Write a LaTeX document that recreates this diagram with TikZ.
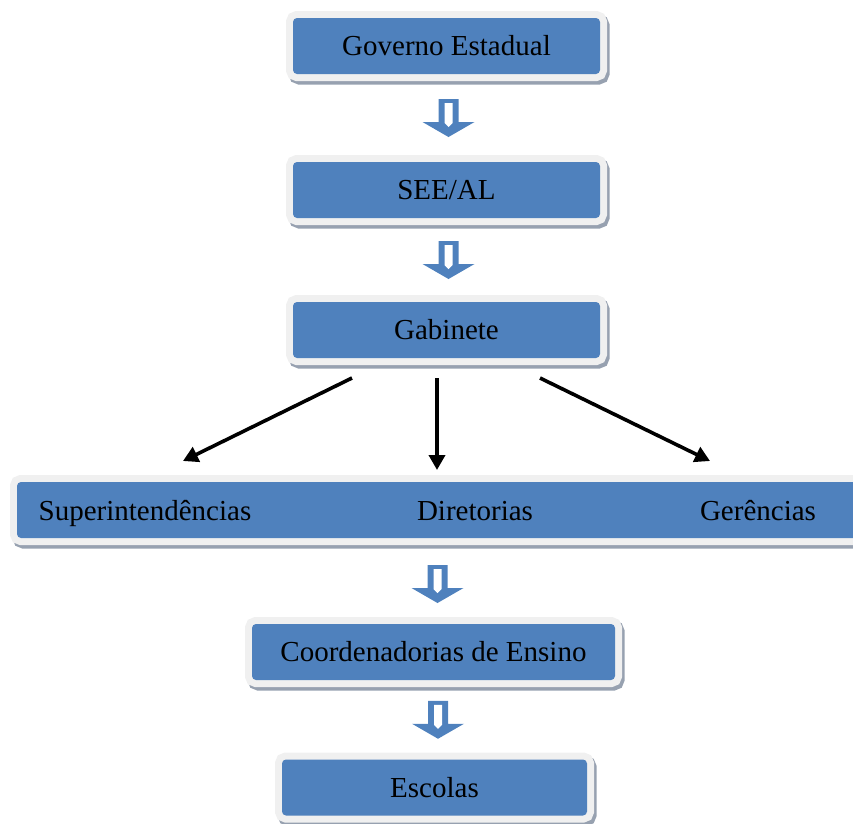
\documentclass[tikz,border=0pt]{standalone}
\usepackage{fontspec}
\setmainfont{Liberation Serif}
\usetikzlibrary{
    positioning,
    arrows.meta,
    calc
}
\usepackage{xcolor}
\definecolor{azul}{HTML}{4F81BD}
\definecolor{moldura}{HTML}{F0F0F0}
\definecolor{sombra}{HTML}{97A1B0}
\newcommand{\texto}{\fontsize{29}{34}\selectfont}

\tikzset{
  caixa/.style={fill=azul, rounded corners=4pt, inner sep=0pt,
    minimum height=56pt, font=\texto,
    preaction={draw=sombra, line width=14pt, transform canvas={shift={(2.5pt,-3.5pt)}}},
    preaction={draw=moldura, line width=14pt}},
  rotulo/.style={font=\texto, inner sep=0pt, anchor=base},
  ligacao/.style={line width=3.6pt, -{Triangle[length=15pt,width=16pt]}},
  seta/.pic={
    \fill[azul] (-10,-19) -- (10,-19) -- (10,4) -- (26,4) -- (0,19)
      -- (-26,4) -- (-10,4) -- cycle;
    \fill[white] (-4,-15) -- (4,-15) -- (4,5) -- (0,9) -- (-4,5) -- cycle;
  }
}

\begin{document}
\begin{tikzpicture}[x=1pt,y=-1pt]
\useasboundingbox (0,0) rectangle (853,823);

\node[caixa, minimum width=307pt] (gov) at (446.5,46) {Governo Estadual};
\node[caixa, minimum width=307pt] (see) at (446.5,190) {SEE/AL};
\node[caixa, minimum width=307pt] (gab) at (446.5,330) {Gabinete};
\node[caixa, minimum width=850pt] (barra) at (442,510) {};
\node[rotulo] (sup) at (145,520) {Superintendências};
\node[rotulo] (dir) at (475,520) {Diretorias};
\node[rotulo] (ger) at (758,520) {Gerências};
\node[caixa, minimum width=363pt] (coord) at (433.5,652) {Coordenadorias de Ensino};
\node[caixa, minimum width=305pt] (esc) at (434.5,787.5) {Escolas};

% setas ocas entre os niveis
\pic at ($(gov.south)!0.5!(see.north)+(2,0)$) {seta};
\pic at ($(see.south)!0.5!(gab.north)+(2,0)$) {seta};
\pic at ($(barra.south -| coord.north)!0.5!(coord.north)+(4,3)$) {seta};
\pic at ($(coord.south)!0.5!(esc.north)+(4,0)$) {seta};

% ligacoes do gabinete
\coordinate (g1) at (352,378);
\coordinate (g2) at (437,378);
\coordinate (g3) at (540,378);
\coordinate (b1) at (183,461);
\coordinate (b2) at (437,470);
\coordinate (b3) at (710,461);
\draw[ligacao] (g1) -- (b1);
\draw[ligacao] (g2) -- (b2);
\draw[ligacao] (g3) -- (b3);
\end{tikzpicture}
\end{document}
